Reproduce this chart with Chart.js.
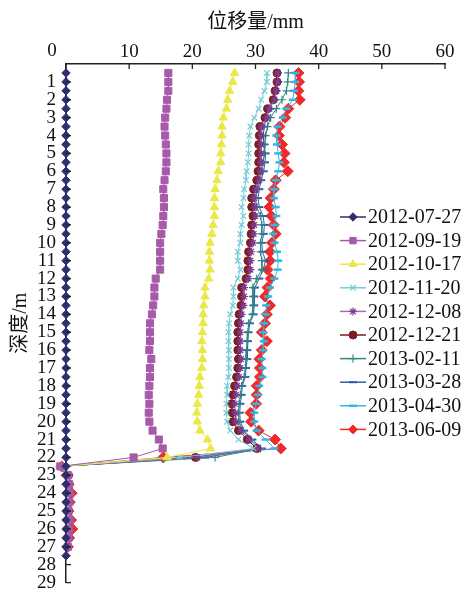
<!DOCTYPE html>
<html>
<head>
<meta charset="utf-8">
<script src="https://cdn.jsdelivr.net/npm/chart.js@4/dist/chart.umd.min.js"></script>
<style>
  html, body { margin: 0; padding: 0; background: #fff; }
  canvas { display: block; }
</style>
</head>
<body>
<canvas id="c" width="465" height="604"></canvas>
<script>
// Measurement depths (m)
const depthsFull = [0.5,1,1.5,2,2.5,3,3.5,4,4.5,5,5.5,6,6.5,7,7.5,8,8.5,9,9.5,10,
  10.5,11,11.5,12,12.5,13,13.5,14,14.5,15,15.5,16,16.5,17,17.5,18,18.5,19,19.5,20,
  20.5,21,21.5,22,22.5,23,23.5,24,24.5,25,25.5,26,26.5,27,27.5];

const dateLabels = ['2012-07-27','2012-09-19','2012-10-17','2012-11-20','2012-12-08',
  '2012-12-21','2013-02-11','2013-03-28','2013-04-30','2013-06-09'];

// Displacement (mm) per survey date, top to bottom
const d20120727 = [0,0,0,0,0,0,0,0,0,0, 0,0,0,0,0,0,0,0,0,0, 0,0,0,0,0,0,0,0,0,0,
  0,0,0,0,0,0,0,0,0,0, 0,0,0,0,0,0,0,0,0,0, 0,0,0,0,0];
const d20120919 = [16.2,16.2,16.2,16.0,15.9,15.7,15.6,15.7,15.8,15.9,
  15.9,15.8,15.6,15.4,15.5,15.5,15.4,15.3,15.1,14.9,
  14.9,14.9,14.9,14.2,14.0,14.0,13.8,13.6,13.3,13.3,
  13.3,13.2,13.5,13.3,13.3,13.2,13.1,13.2,13.1,13.2,
  13.7,14.7,15.3,10.7,-0.9,
  0.3,0.5,0.6,0.5,0.4,0.6,0.5,0.4,0.3];
const d20121017 = [26.7,26.4,25.9,25.6,25.4,24.9,24.7,24.7,24.6,24.5,
  24.5,24.1,23.9,23.6,23.5,23.5,23.5,23.3,23.1,22.8,
  22.7,22.7,22.8,22.6,22.0,22.0,21.8,21.7,21.7,21.6,
  21.5,21.6,21.6,21.5,21.2,21.1,21.0,20.8,20.7,20.8,
  21.2,22.4,22.9,16.0,-0.8,
  0.2,0.4,0.5,0.4,0.3,0.4,0.3,0.2,0.1];
const d20121120 = [31.8,31.8,31.4,30.9,30.5,29.8,29.2,29.0,28.9,28.9,
  28.8,28.6,28.5,28.2,28.1,27.8,28.1,27.8,27.6,27.6,
  27.2,27.2,27.6,27.2,26.5,26.5,26.4,26.0,25.8,25.7,
  25.7,25.8,25.8,25.8,25.7,25.5,25.5,25.4,25.4,25.5,
  26.0,27.3,29.7,18.0,-1.0,
  0.2,0.4,0.5,0.4,0.3,0.5,0.4,0.3,0.2];
const d20121208 = [33.5,33.5,33.3,33.0,32.2,31.8,31.0,30.9,30.9,30.9,
  30.9,30.8,30.6,30.1,29.8,29.9,30.0,29.8,29.7,29.6,
  29.3,29.2,29.2,28.9,28.2,28.2,28.1,27.8,27.7,27.6,
  27.6,27.6,27.7,27.6,27.4,27.1,26.9,26.7,26.8,26.9,
  27.7,29.0,30.4,20.8,-0.9,
  0.5,0.6,0.7,0.6,0.5,0.7,0.6,0.5,0.4];
const d20121221 = [33.4,33.4,33.1,32.8,31.9,31.5,30.7,30.6,30.5,30.5,
  30.5,30.4,30.2,29.7,29.4,29.4,29.6,29.4,29.3,29.2,
  28.9,28.8,28.8,28.5,27.8,27.8,27.7,27.4,27.3,27.2,
  27.2,27.2,27.3,27.2,27.0,26.7,26.4,26.2,26.3,26.4,
  27.3,28.7,30.2,20.5,-0.8,
  0.4,0.5,0.6,0.5,0.4,0.6,0.5,0.4,0.3];
const d20130211 = [35.2,35.1,34.9,34.2,33.3,32.4,31.9,31.6,31.5,31.4,
  31.2,31.0,30.7,30.3,30.0,30.2,30.8,31.0,31.0,30.8,
  30.8,31.0,31.0,30.2,29.6,29.6,29.6,29.5,28.9,28.8,
  28.7,28.6,28.5,28.4,28.2,27.8,27.6,27.4,27.3,27.4,
  28.0,29.2,30.8,23.6,-1.2,
  0.1,0.3,0.4,0.3,0.2,0.3,0.2,0.1,0.0];
const d20130328 = [33.5,33.6,33.3,32.9,32.3,31.7,31.4,31.2,31.3,31.6,
  31.5,31.3,30.9,30.6,30.4,30.6,31.2,31.4,31.3,31.0,
  31.1,31.6,31.2,30.6,29.9,29.8,29.8,29.7,29.1,28.9,
  28.8,28.7,28.7,28.5,28.4,27.9,27.8,27.6,27.5,27.6,
  28.2,29.5,31.0,22.0,-1.1,
  0.2,0.4,0.5,0.4,0.3,0.4,0.3,0.2,0.1];
const d20130430 = [36.3,36.3,36.1,35.9,34.9,34.3,33.5,33.3,33.4,33.6,
  33.8,33.6,33.2,32.9,32.9,33.2,33.3,33.0,32.8,33.0,
  33.4,33.6,33.5,33.0,32.3,32.0,31.7,31.6,31.4,31.2,
  31.3,31.2,31.0,31.1,31.1,30.6,30.4,30.1,29.8,29.8,
  30.2,31.6,33.0,19.0,-1.3,
  0.1,0.3,0.6,0.4,0.2,0.5,0.6,0.3,0.1];
const d20130609 = [36.8,36.9,36.8,37.0,35.2,34.7,33.8,33.7,34.2,34.6,
  34.5,35.1,33.2,32.9,32.4,32.2,32.5,32.9,33.2,32.6,
  32.3,32.3,31.9,32.4,31.9,31.5,32.3,31.8,31.5,31.0,
  31.8,31.0,30.6,30.7,30.7,30.2,30.2,30.1,29.2,29.3,
  30.5,33.1,34.0,15.4,-0.7,
  0.1,0.4,0.9,0.6,0.4,0.8,1.0,0.5,0.3];

const xTicks = [0,10,20,30,40,50,60];
const yTicks = [1,2,3,4,5,6,7,8,9,10,11,12,13,14,15,16,17,18,19,20,21,22,23,24,25,26,27,28,29];

const seriesValues = [d20120727,d20120919,d20121017,d20121120,d20121208,
  d20121221,d20130211,d20130328,d20130430,d20130609];

const styles = [
  { color: '#2F2F6E', point: '#2F2F6E', style: 'rectRot', r: 4.2, bw: 1 },
  { color: '#A65AA8', point: '#A65AA8', style: 'rect', r: 5, bw: 1 },
  { color: '#E9E845', point: '#E9E845', style: 'triangle', r: 4.8, bw: 1 },
  { color: '#74CCD8', point: '#74CCD8', style: 'crossRot', r: 4, bw: 1.2 },
  { color: '#A070B8', point: '#7E3A94', style: 'star', r: 4, bw: 1.2 },
  { color: '#7A1E24', point: '#7A1E24', style: 'circle', r: 4, bw: 1 },
  { color: '#2E8A80', point: '#2E8A80', style: 'cross', r: 4, bw: 1.2 },
  { color: '#2F5FAE', point: '#2A58A6', style: 'line', r: 4, bw: 2 },
  { color: '#33B8E6', point: '#33B8E6', style: 'line', r: 4, bw: 2.5 },
  { color: '#F02A2A', point: '#F02A2A', style: 'rectRot', r: 5.5, bw: 1 }
];

const datasets = seriesValues.map((vals, i) => ({
  label: dateLabels[i],
  data: vals.map((v, k) => ({ x: v, y: depthsFull[k] })),
  borderColor: styles[i].color,
  backgroundColor: styles[i].point,
  pointBorderColor: styles[i].point,
  pointBackgroundColor: styles[i].point,
  pointStyle: styles[i].style,
  pointRadius: styles[i].r,
  pointBorderWidth: styles[i].bw,
  borderWidth: 1,
  tension: 0,
  clip: false
}));

const serif = '"Liberation Serif", "Times New Roman", "Noto Sans CJK SC", serif';

// Inward tick marks on both axes, plus the origin label set left of the corner
const axisDecor = {
  id: 'axisDecor',
  afterDraw(chart) {
    const { ctx, chartArea, scales } = chart;
    ctx.save();
    ctx.strokeStyle = '#222';
    ctx.lineWidth = 1.3;
    ctx.beginPath();
    xTicks.forEach(v => {
      const px = scales.x.getPixelForValue(v);
      ctx.moveTo(px, chartArea.top);
      ctx.lineTo(px, chartArea.top + 5);
    });
    yTicks.forEach(v => {
      const py = scales.y.getPixelForValue(v);
      ctx.moveTo(chartArea.left, py);
      ctx.lineTo(chartArea.left + 5, py);
    });
    ctx.stroke();
    ctx.fillStyle = '#111';
    ctx.font = '19px ' + serif;
    ctx.textAlign = 'center';
    ctx.textBaseline = 'middle';
    ctx.fillText(String(xTicks[0]), scales.x.getPixelForValue(xTicks[0]) - 14, 51.5);
    ctx.restore();
  }
};

// Legend drawn inside the plot area, right side
const innerLegend = {
  id: 'innerLegend',
  afterDraw(chart) {
    const { ctx } = chart;
    const x0 = 340, x1 = 366, top = 217, step = 23.6;
    ctx.save();
    chart.data.datasets.forEach((ds, i) => {
      const y = top + i * step;
      ctx.strokeStyle = ds.borderColor;
      ctx.lineWidth = 1.5;
      ctx.beginPath();
      ctx.moveTo(x0, y);
      ctx.lineTo(x1, y);
      ctx.stroke();
      ctx.fillStyle = ds.pointBackgroundColor;
      ctx.strokeStyle = ds.pointBorderColor;
      ctx.lineWidth = ds.pointBorderWidth;
      if (Chart.helpers && Chart.helpers.drawPoint) {
        Chart.helpers.drawPoint(ctx, {
          pointStyle: ds.pointStyle, radius: Math.min(ds.pointRadius, 4.5),
          rotation: 0, borderWidth: ds.pointBorderWidth
        }, (x0 + x1) / 2, y);
      }
      ctx.fillStyle = '#111';
      ctx.font = '20px ' + serif;
      ctx.textBaseline = 'middle';
      ctx.textAlign = 'left';
      ctx.fillText(ds.label, 368, y + 1);
    });
    ctx.restore();
  }
};

new Chart(document.getElementById('c'), {
  type: 'line',
  data: { datasets },
  options: {
    responsive: false,
    animation: false,
    layout: { padding: { left: 0, top: 0, right: 20, bottom: 10 } },
    plugins: { legend: { display: false }, tooltip: { enabled: false } },
    scales: {
      x: {
        type: 'linear',
        position: 'top',
        min: 0, max: 60,
        afterBuildTicks: s => { s.ticks = xTicks.map(v => ({ value: v })); },
        afterFit: s => { s.height = 64; },
        grid: { display: true, drawOnChartArea: false, drawTicks: false },
        border: { display: true, color: '#222', width: 1.5 },
        ticks: { color: '#111', font: { family: serif, size: 19 }, padding: 1, maxRotation: 0,
          callback: v => (v === xTicks[0] ? '' : String(v)) },
        title: { display: true, text: '位移量/mm', color: '#111',
          font: { family: serif, size: 20 }, padding: { top: 11, bottom: 0 } }
      },
      y: {
        type: 'linear',
        reverse: true,
        min: 0, max: 29,
        afterBuildTicks: s => { s.ticks = yTicks.map(v => ({ value: v })); },
        afterFit: s => { s.width = 66; },
        grid: { display: true, drawOnChartArea: false, drawTicks: false },
        border: { display: true, color: '#222', width: 1.5 },
        ticks: { color: '#111', font: { family: serif, size: 19 }, padding: 10, autoSkip: false },
        title: { display: true, text: '深度/m', color: '#111',
          font: { family: serif, size: 20 }, padding: { top: 9, bottom: 0 } }
      }
    }
  },
  plugins: [axisDecor, innerLegend]
});
</script>
</body>
</html>
